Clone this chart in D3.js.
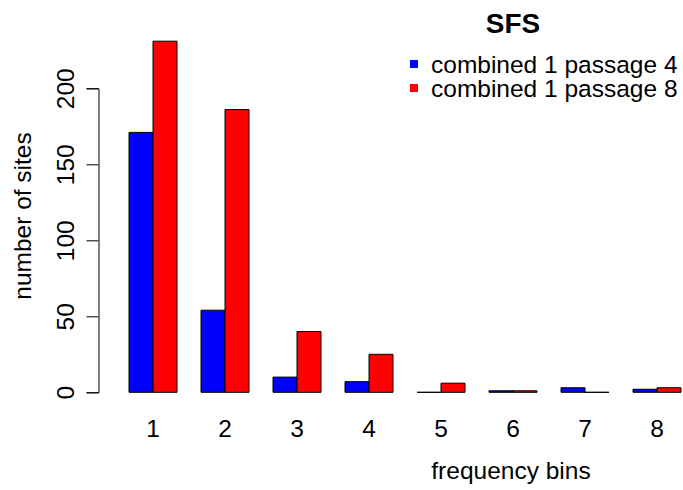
<!DOCTYPE html>
<html>
<head>
<meta charset="utf-8">
<script src="https://cdn.jsdelivr.net/npm/d3@7"></script>
<style>
  body { margin: 0; background: #fff; }
  text { font-family: "Liberation Sans", Arial, Helvetica, sans-serif; fill: #000; }
</style>
</head>
<body>
<div id="chart"></div>
<script>
// data
const bins = ['1', '2', '3', '4', '5', '6', '7', '8']
const passage4 = [171, 54, 10, 7, 0, 1, 3, 2]
const passage8 = [231, 186, 40, 25, 6, 1, 0, 3]
const seriesNames = ['combined 1 passage 4', 'combined 1 passage 8']
const seriesColors = ['#0000ff', '#ff0000']
const yTicks = [0, 50, 100, 150, 200]

const width = 683,
height = 490,
fontSize = '24.5px'

let svg = d3.select('#chart')
.append('svg')
.attr('width', width)
.attr('height', height)

// R barplot units: each group = 2 bars + 1 bar gap
const x = d3.scaleLinear()
.domain([1, 24])
.range([129, 681])

const y = d3.scaleLinear()
.domain([0, 200])
.range([392.3, 88.3])

// bars (drawn as paths so zero-height bars still show their border)
let bars = []
bins.forEach((b, i) => {
  bars.push({ x0: 1 + 3 * i, v: passage4[i], c: seriesColors[0] })
  bars.push({ x0: 2 + 3 * i, v: passage8[i], c: seriesColors[1] })
})

svg.selectAll('path.bar')
.data(bars)
.enter()
.append('path')
.attr('class', 'bar')
.attr('d', d => {
  const x0 = x(d.x0), x1 = x(d.x0 + 1), y0 = y(0), y1 = y(d.v)
  return `M${x0},${y0}V${y1}H${x1}V${y0}Z`
})
.attr('fill', d => d.c)
.attr('stroke', '#000')
.attr('stroke-width', 1)

// y axis
const yAxis = d3.axisLeft(y)
.tickValues(yTicks)
.tickSize(12)
.tickPadding(0)

let gy = svg.append('g')
.attr('transform', 'translate(98.5,0)')
.call(yAxis)

gy.select('.domain').attr('stroke', '#000')
gy.selectAll('.tick line').attr('stroke', '#000')
gy.selectAll('.tick text')
.attr('x', 0)
.attr('y', 0)
.attr('dy', 0)
.attr('transform', 'translate(-25,0) rotate(-90)')
.attr('text-anchor', 'middle')
.style('font-size', fontSize)
.style('font-family', '"Liberation Sans", Arial, sans-serif')

// x category labels
svg.selectAll('text.bin')
.data(bins)
.enter()
.append('text')
.attr('class', 'bin')
.attr('x', (d, i) => x(2 + 3 * i))
.attr('y', 437)
.attr('text-anchor', 'middle')
.style('font-size', fontSize)
.text(d => d)

// axis titles
svg.append('text')
.attr('x', 511)
.attr('y', 479)
.attr('text-anchor', 'middle')
.style('font-size', fontSize)
.text('frequency bins')

svg.append('text')
.attr('transform', 'translate(31,216) rotate(-90)')
.attr('text-anchor', 'middle')
.style('font-size', fontSize)
.text('number of sites')

// title
svg.append('text')
.attr('x', 513)
.attr('y', 33)
.attr('text-anchor', 'middle')
.style('font-size', '28px')
.style('font-weight', 'bold')
.text('SFS')

// legend
let legend = svg.selectAll('g.legend')
.data(seriesNames)
.enter()
.append('g')
.attr('class', 'legend')
.attr('transform', (d, i) => `translate(410,${64 + i * 24})`)

legend.append('rect')
.attr('x', 0)
.attr('y', -4)
.attr('width', 8)
.attr('height', 8)
.attr('fill', (d, i) => seriesColors[i])

legend.append('text')
.attr('x', 21)
.attr('y', 8.5)
.style('font-size', fontSize)
.text(d => d)
</script>
</body>
</html>
